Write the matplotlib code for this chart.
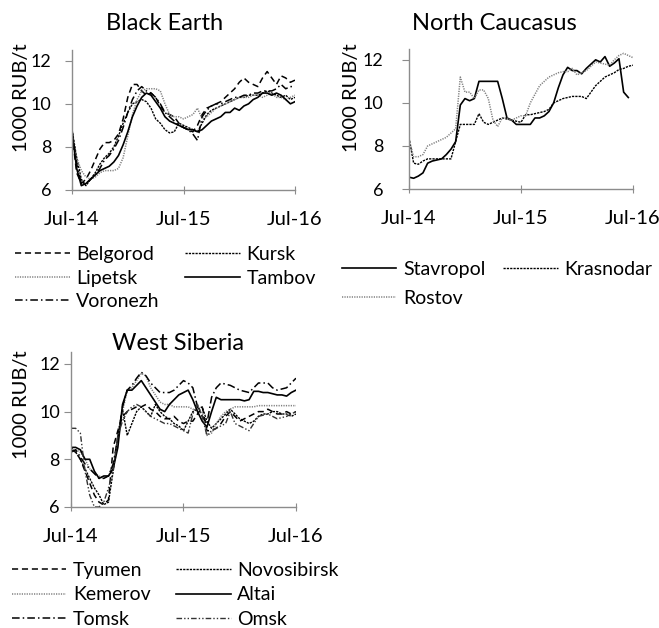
import numpy as np
import matplotlib
matplotlib.use("Agg")
import matplotlib.pyplot as plt

plt.rcParams['font.family'] = ['Lato', 'DejaVu Sans']

# months since Jul-14, half-month steps
months = np.arange(0, 24.5, 0.5)
tick_pos = [0, 12, 24]
tick_labels = ["Jul-14", "Jul-15", "Jul-16"]
nan = np.nan

# ---- Black Earth ----
belgorod = [8.6, 6.8, 6.3, 6.5, 6.9, 7.4, 7.9, 8.2, 8.2, 8.3, 8.6, 9.3, 10.3, 10.9, 10.9, 10.6,
            10.4, 10.5, 10.3, 9.9, 9.6, 9.5, 9.4, 9.1, 8.9, 8.8, 8.7, 9.0, 9.5, 9.8, 9.9, 10.0,
            10.1, 10.3, 10.5, 10.7, 11.0, 11.2, 11.0, 10.9, 10.8, 11.2, 11.5, 11.2, 10.9, 11.3, 11.2, 11.0, 11.1]
kursk = [8.8, 7.5, 6.5, 6.2, 6.5, 6.8, 7.2, 7.5, 7.7, 8.0, 8.5, 9.1, 9.6, 10.0, 10.1, 10.2,
         10.1, 9.8, 9.3, 9.1, 8.8, 8.65, 8.7, 9.1, 9.0, 8.9, 8.8, 8.7, 9.1, 9.5, 9.7, 9.8,
         9.9, 10.0, 10.1, 10.2, 10.3, 10.3, 10.4, 10.4, 10.4, 10.5, 10.6, 10.5, 10.4, 10.3, 10.4, 10.2, 10.3]
lipetsk = [8.5, 7.5, 6.9, 6.6, 6.5, 6.6, 6.8, 6.9, 6.9, 6.9, 7.0, 7.5, 8.5, 9.5, 10.2, 10.6,
           10.7, 10.7, 10.7, 10.6, 10.0, 9.5, 9.4, 9.4, 9.3, 9.4, 9.5, 9.8, 9.3, 9.4, 9.6, 9.8,
           9.9, 10.0, 10.1, 10.2, 10.3, 10.3, 10.3, 10.4, 10.4, 10.3, 10.4, 10.5, 10.3, 10.3, 10.2, 10.3, 10.4]
tambov = [8.7, 7.0, 6.2, 6.3, 6.5, 6.7, 6.9, 7.0, 7.1, 7.3, 7.6, 8.1, 8.7, 9.4, 9.9, 10.3,
          10.5, 10.4, 10.1, 9.8, 9.4, 9.2, 9.1, 9.0, 8.9, 8.8, 8.8, 8.7, 8.8, 9.0, 9.2, 9.3,
          9.4, 9.6, 9.6, 9.8, 9.7, 9.9, 10.0, 10.2, 10.3, 10.5, 10.5, 10.4, 10.5, 10.4, 10.2, 10.0, 10.1]
voronezh = [8.8, 7.2, 6.3, 6.3, 6.5, 6.7, 7.0, 7.4, 7.6, 7.9, 8.3, 8.9, 9.6, 10.2, 10.6, 10.8,
            10.6, 10.5, 10.3, 10.0, 9.6, 9.4, 9.2, 9.0, 8.9, 8.8, 8.6, 8.3, 9.4, 9.7, 9.9, 10.0,
            10.0, 10.1, 10.2, 10.3, 10.3, 10.4, 10.4, 10.5, 10.5, 10.6, 10.6, 10.6, 10.7, 10.9, 10.7, 10.8, 10.8]

# ---- North Caucasus ----
stavropol = [6.55, 6.5, 6.6, 6.75, 7.2, 7.3, 7.35, 7.4, 7.6, 7.85, 8.2, 9.9, 10.2, 10.1, 10.2, 11.0,
             11.0, 11.0, 11.0, 11.0, 10.2, 9.3, 9.2, 9.0, 9.0, 9.0, 9.0, 9.3, 9.3, 9.4, 9.6, 10.0,
             10.7, 11.3, 11.65, 11.5, 11.5, 11.35, 11.6, 11.8, 12.0, 11.9, 12.15, 11.7, 11.85, 12.05, 10.5, 10.25, nan]
krasnodar = [8.4, 7.2, 7.15, 7.3, 7.4, 7.4, 7.4, 7.4, 7.4, 7.4, 8.2, 9.0, 9.0, 9.0, 9.0, 9.5,
             9.1, 9.0, 9.1, 9.2, 9.3, 9.25, 9.2, 9.15, 9.1, 9.45, 9.45, 9.5, 9.55, 9.6, 9.7, 10.0,
             10.1, 10.2, 10.25, 10.3, 10.3, 10.3, 10.2, 10.5, 10.8, 11.0, 11.2, 11.3, 11.4, 11.55, 11.6, 11.7, 11.75]
rostov = [8.3, 7.5, 7.5, 7.6, 8.0, 8.1, 8.2, 8.3, 8.4, 8.6, 8.8, 11.2, 10.5, 10.5, 10.2, 10.6,
          10.6, 10.2, 9.2, 8.9, 9.3, 9.3, 9.2, 9.3, 9.4, 9.4, 10.0, 10.4, 10.8, 11.0, 11.2, 11.3,
          11.4, 11.45, 11.45, 11.6, 11.3, 11.4, 11.5, 11.7, 11.9, 11.85, 11.8, 11.75, 12.0, 12.2, 12.3, 12.2, 12.1]

# ---- West Siberia ----
tyumen = [8.4, 8.3, 8.0, 7.5, 7.0, 6.5, 6.2, 6.1, 6.3, 8.5, 9.2, 9.8, 10.0, 10.1, 10.2, 10.2,
          10.3, 10.1, 10.0, 9.8, 9.7, 9.7, 9.8, 9.6, 9.5, 9.6, 9.6, 9.9, 10.2, 9.2, 9.2, 9.3,
          9.5, 9.8, 10.0, 9.8, 9.6, 9.7, 9.8, 9.9, 10.0, 10.0, 10.1, 10.0, 9.9, 9.9, 10.0, 9.9, 10.0]
novosibirsk = [8.5, 8.3, 8.0, 7.6, 7.2, 6.8, 6.5, 6.1, 6.2, 7.5, 9.0, 10.1, 9.0, 9.5, 10.0, 10.2,
               10.0, 9.8, 10.3, 10.0, 9.8, 9.7, 9.5, 9.4, 9.2, 9.6, 10.0, 10.1, 10.2, 9.6, 9.3, 9.5,
               9.7, 9.9, 10.1, 9.9, 9.7, 9.6, 9.5, 9.6, 9.8, 9.9, 9.9, 10.0, 10.0, 9.9, 9.9, 9.8, 9.9]
kemerov = [8.3, 8.4, 8.3, 8.0, 7.6, 7.4, 7.3, 7.2, 7.3, 7.7, 8.8, 10.0, 10.9, 11.0, 11.3, 11.6,
           11.5, 11.0, 10.7, 10.4, 10.3, 10.3, 10.2, 10.2, 10.2, 10.2, 10.1, 10.1, 10.0, 9.0, 9.1, 9.5,
           9.8, 10.0, 10.1, 10.2, 10.2, 10.2, 10.2, 10.2, 10.25, 10.25, 10.25, 10.25, 10.25, 10.25, 10.25, 10.25, 10.25]
altai = [8.5, 8.5, 8.4, 8.0, 8.0, 7.5, 7.2, 7.3, 7.3, 7.6, 8.5, 10.3, 10.9, 10.9, 11.1, 11.3,
         11.0, 10.7, 10.4, 10.1, 10.0, 10.3, 10.5, 10.7, 10.8, 10.9, 10.5, 10.0, 9.6, 9.35, 10.0, 10.6,
         10.5, 10.5, 10.5, 10.5, 10.5, 10.45, 10.5, 10.85, 10.85, 10.8, 10.8, 10.75, 10.7, 10.7, 10.65, 10.8, 10.9]
tomsk = [8.3, 8.4, 8.1, 7.8, 7.6, 7.4, 7.2, 7.2, 7.3, 7.8, 8.9, 10.2, 10.9, 11.1, 11.4, 11.65,
         11.5, 11.2, 11.0, 10.8, 10.8, 10.8, 10.9, 11.1, 11.3, 11.2, 11.0, 10.2, 9.8, 9.5, 10.6, 11.0,
         11.2, 11.15, 11.1, 11.0, 10.9, 10.85, 10.8, 11.0, 11.2, 11.2, 11.2, 11.0, 10.9, 10.95, 11.0, 11.2, 11.4]
omsk = [9.3, 9.3, 9.1, 7.5, 6.5, 6.0, 6.0, 6.2, 6.8, 7.5, 9.0, 9.6, 10.0, 10.2, 10.3, 10.2,
        10.0, 9.8, 9.7, 9.6, 9.5, 9.5, 9.4, 9.3, 9.2, 9.1, 9.9, 10.3, 9.8, 9.0, 9.2, 9.3,
        9.4, 9.5, 10.0, 9.5, 9.4, 9.3, 9.2, 9.5, 9.8, 9.85, 9.9, 9.8, 9.7, 9.75, 9.8, 9.9, 10.0]

# line styles
DASHED = dict(color="black", linestyle=(0, (4, 2.5)), lw=1.1)
FINE = dict(color="black", linestyle=(0, (1.6, 0.8)), lw=1.0)
DOTTED = dict(color="#808080", linestyle=(0, (0.8, 0.8)), lw=1.1)
SOLID = dict(color="black", linestyle="-", lw=1.2)
DASHDOT = dict(color="black", linestyle=(0, (5, 2, 1, 2)), lw=1.1)
DASHDOTDOT = dict(color="#333333", linestyle=(0, (4, 1.5, 1, 1.5, 1, 1.5)), lw=1.0)

fig = plt.figure(figsize=(6.59, 6.28), dpi=100)

def style_axes(ax, ypad, label_xy):
    ax.set_xlim(0, 24)
    ax.set_ylim(6, 12.5)
    ax.set_xticks(tick_pos)
    ax.set_xticklabels(tick_labels)
    ax.set_yticks([6, 8, 10, 12])
    for s in ["top", "right"]:
        ax.spines[s].set_visible(False)
    for s in ["left", "bottom"]:
        ax.spines[s].set_color("#8c8c8c")
        ax.spines[s].set_linewidth(1.0)
    ax.tick_params(axis="x", length=6, pad=12, labelsize=14.5, color="#8c8c8c", direction="inout")
    ax.tick_params(axis="y", length=5, pad=ypad, labelsize=13, color="#8c8c8c")
    fig.text(label_xy[0] / 659, 1 - label_xy[1] / 628, "1000 RUB/t", fontsize=14.5,
             rotation=90, ha="center", va="center")

def title(text, xpx, ypx):
    fig.text(xpx / 659, 1 - ypx / 628, text, fontsize=17, ha="center", va="center")

def legend(ax, handles, labels, x, y, spacing, colsp):
    ax.legend(handles, labels, loc="upper left", bbox_to_anchor=(x, y),
              bbox_transform=fig.transFigure, ncol=2, frameon=False, fontsize=14,
              handlelength=2.8, handletextpad=0.35, columnspacing=colsp,
              labelspacing=spacing, borderaxespad=0, borderpad=0)

# Black Earth
ax1 = fig.add_axes([0.1093, 0.6975, 0.3384, 0.2229])
hb, = ax1.plot(months, belgorod, **DASHED)
hk, = ax1.plot(months, kursk, **FINE)
hl, = ax1.plot(months, lipetsk, **DOTTED)
ht, = ax1.plot(months, tambov, **SOLID)
hv, = ax1.plot(months, voronezh, **DASHDOT)
style_axes(ax1, 10, (22, 98))
title("Black Earth", 165, 24)
legend(ax1, [hb, hl, hv, hk, ht], ["Belgorod", "Lipetsk", "Voronezh", "Kursk", "Tambov"],
       0.023, 0.608, 0.33, 1.3)

# North Caucasus
ax2 = fig.add_axes([0.6206, 0.699, 0.3399, 0.2229])
hs, = ax2.plot(months, stavropol, **SOLID)
hkr, = ax2.plot(months, krasnodar, **FINE)
hr, = ax2.plot(months, rostov, **DOTTED)
style_axes(ax2, 13.5, (352, 98))
title("North Caucasus", 494, 24)
legend(ax2, [hs, hr, hkr], ["Stavropol", "Rostov", "Krasnodar"], 0.519, 0.585, 0.62, 0.9)

# West Siberia
ax3 = fig.add_axes([0.1077, 0.1927, 0.3414, 0.2468])
h1, = ax3.plot(months, tyumen, **DASHED)
h2, = ax3.plot(months, novosibirsk, **FINE)
h3, = ax3.plot(months, kemerov, **DOTTED)
h4, = ax3.plot(months, altai, **SOLID)
h5, = ax3.plot(months, tomsk, **DASHDOT)
h6, = ax3.plot(months, omsk, **DASHDOTDOT)
style_axes(ax3, 3, (22, 405))
title("West Siberia", 178, 344)
legend(ax3, [h1, h3, h5, h2, h4, h6],
       ["Tyumen", "Kemerov", "Tomsk", "Novosibirsk", "Altai", "Omsk"], 0.018, 0.105, 0.38, 1.3)

fig.savefig("out.png", dpi=100)
